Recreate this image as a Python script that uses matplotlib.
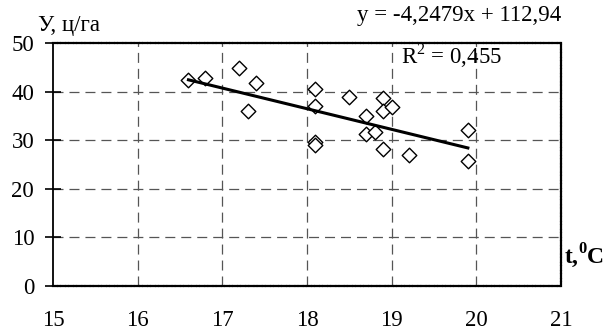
import numpy as np
import matplotlib
matplotlib.use('Agg')
import matplotlib.pyplot as plt

plt.rcParams['font.family'] = ['Liberation Serif', 'DejaVu Serif']
plt.rcParams['mathtext.fontset'] = 'custom'
plt.rcParams['mathtext.rm'] = 'Liberation Serif'
plt.rcParams['mathtext.bf'] = 'Liberation Serif:bold'
plt.rcParams['lines.scale_dashes'] = False

# temperature, t degC
t = [16.6, 16.8, 17.2, 17.4, 17.3, 18.1, 18.1, 18.1, 18.1, 18.5,
     18.7, 18.7, 18.8, 18.9, 18.9, 19.0, 18.9, 19.2, 19.9, 19.9]
# yield, c/ha
yld = [42.4, 42.9, 44.9, 41.8, 36.1, 40.5, 37.0, 29.7, 29.1, 38.8,
       34.9, 31.3, 31.7, 38.7, 36.0, 36.8, 28.2, 27.0, 32.2, 25.7]

slope = -4.2479
intercept = 112.94
r2 = 0.455

xticks = [15, 16, 17, 18, 19, 20, 21]
yticks = [0, 10, 20, 30, 40, 50]

fs = 16.5

fig = plt.figure(figsize=(6.12, 3.36), dpi=100)
ax = fig.add_axes([53 / 612, 1 - 286 / 336, 508 / 612, 243 / 336])

ax.set_xlim(15, 21)
ax.set_ylim(0, 50)

grid_ls = (0, (7.2, 4.3))
for xv in xticks[1:-1]:
    ax.axvline(xv, color='#555555', lw=0.9, ls=grid_ls, zorder=1)
for yv in yticks[1:-1]:
    ax.axhline(yv, color='#555555', lw=0.9, ls=grid_ls, zorder=1)

border = (0, (2.5, 1.2, 1.0, 1.2))
for s in ['top', 'right', 'bottom']:
    ax.spines[s].set_linestyle(border)
    ax.spines[s].set_linewidth(1.6)
ax.spines['left'].set_linewidth(1.3)

ax.scatter(t, yld, marker='D', s=55, facecolors='white', edgecolors='black',
           linewidths=1.0, zorder=3)

xl = np.array([min(t), max(t)])
ax.plot(xl, slope * xl + intercept, color='black', lw=2.2, zorder=4)

ax.set_xticks(xticks)
ax.set_yticks(yticks)
ax.tick_params(axis='x', length=0, pad=17, labelsize=fs)
ax.tick_params(axis='y', direction='inout', length=11, width=1.2, pad=8, labelsize=fs)

fig.text(38 / 612, 1 - 25 / 336, 'У, ц/га', fontsize=fs, va='center', ha='left')
fig.text(561 / 612, 1 - 16 / 336, 'y = -4,2479x + 112,94', fontsize=fs,
         va='center', ha='right')
fig.text(401 / 612, 1 - 56 / 336, 'R$^2$ = 0,455', fontsize=fs, va='center', ha='left')
fig.text(564 / 612, 1 - 256 / 336, r't,$^{\mathbf{0}}$C', fontsize=fs + 0.5,
         fontweight='bold', va='center', ha='left')

fig.savefig('out.png', dpi=100)
